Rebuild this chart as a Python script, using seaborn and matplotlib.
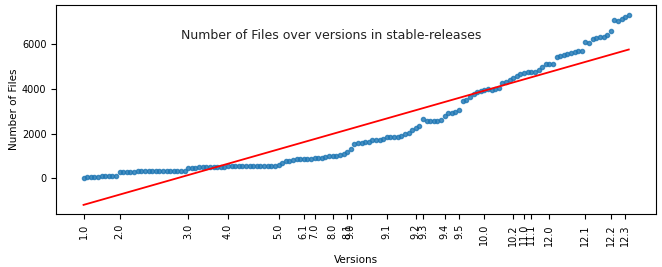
import numpy as np
import pandas as pd
import matplotlib
matplotlib.use("Agg")
import matplotlib.pyplot as plt
import seaborn as sns

# number of files for each stable release, grouped by version series
files_1_0 = [20, 50, 70, 80, 85, 90, 90, 95, 95, 100]
files_2_0 = [270, 275, 270, 280, 280, 320, 330, 330, 330, 330, 330, 335, 335, 335,
             335, 335, 340, 340, 340]
files_3_0 = [470, 480, 480, 490, 490, 495, 495, 500, 500, 505, 510]
files_4_0 = [540, 545, 550, 555, 555, 555, 560, 560, 560, 560, 560, 560, 565, 565]
files_5_0 = [600, 700, 760, 800, 830, 850, 860]
files_6_1 = [870, 880, 890]
files_7_0 = [900, 910, 920, 960, 1000]
files_8_0 = [1020, 1010, 1030, 1100]
files_8_1 = [1180]
files_9_0 = [1320, 1560, 1580, 1600, 1620, 1650, 1700, 1720, 1700, 1780]
files_9_1 = [1850, 1860, 1850, 1870, 1900, 1980, 2050, 2150]
files_9_2 = [2250, 2350]
files_9_3 = [2650, 2580, 2560, 2550, 2550, 2600]
files_9_4 = [2800, 2920, 2940, 2950]
files_9_5 = [3050, 3450, 3500, 3650, 3780, 3850, 3900]
files_10_0 = [3950, 3980, 3950, 4020, 4050, 4250, 4320, 4400]
files_10_2 = [4480, 4600, 4680]
files_11_0 = [4720, 4740]
files_11_1 = [4750, 4780, 4850, 4980, 5100]
files_12_0 = [5120, 5100, 5450, 5480, 5520, 5560, 5600, 5650, 5700, 5720]
files_12_1 = [6120, 6070, 6220, 6270, 6320, 6340, 6420]
files_12_2 = [6600, 7080, 7030, 7130]
files_12_3 = [7200, 7330]

version_labels = ["1.0", "2.0", "3.0", "4.0", "5.0", "6.1", "7.0", "8.0", "8.1",
                  "9.0", "9.1", "9.2", "9.3", "9.4", "9.5", "10.0", "10.2", "11.0",
                  "11.1", "12.0", "12.1", "12.2", "12.3"]
groups = [files_1_0, files_2_0, files_3_0, files_4_0, files_5_0, files_6_1, files_7_0,
          files_8_0, files_8_1, files_9_0, files_9_1, files_9_2, files_9_3, files_9_4,
          files_9_5, files_10_0, files_10_2, files_11_0, files_11_1, files_12_0,
          files_12_1, files_12_2, files_12_3]

files = [v for g in groups for v in g]
df = pd.DataFrame({"release": np.arange(len(files)), "files": files})

# tick at the first release of each version series
tick_pos = np.cumsum([0] + [len(g) for g in groups[:-1]])

fig, ax = plt.subplots(figsize=(6.62, 2.67), dpi=100)
sns.regplot(data=df, x="release", y="files", ci=None, marker=".",
            line_kws={"color": "red", "lw": 1.3}, ax=ax)

ax.set_xticks(tick_pos)
ax.set_xticklabels(version_labels, rotation=90, fontsize=7)
ax.tick_params(axis="y", labelsize=7)
ax.set_xlabel("Versions", fontsize=7.5, labelpad=7)
ax.set_ylabel("Number of Files", fontsize=7.5, labelpad=2)
fig.text(0.5, 0.868, "Number of Files over versions in stable-releases",
         ha="center", va="center", fontsize=9, color="#222222")

fig.subplots_adjust(left=0.085, right=0.991, top=0.981, bottom=0.197)
fig.savefig("out.png", dpi=100)
